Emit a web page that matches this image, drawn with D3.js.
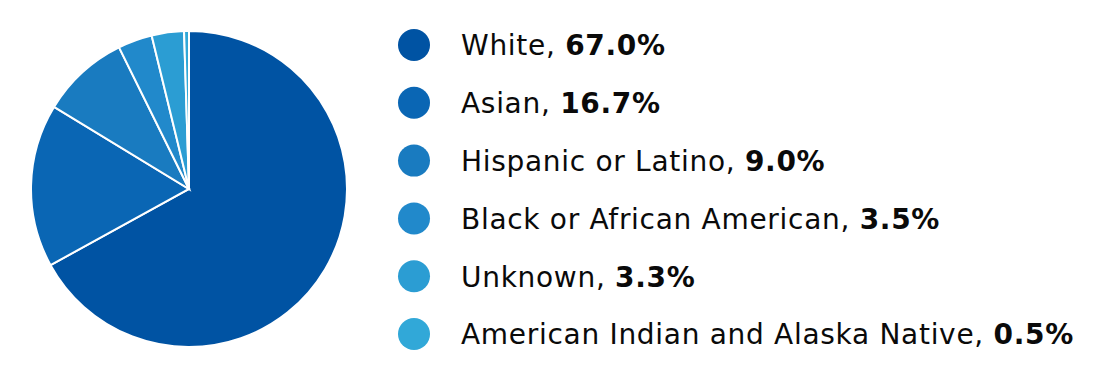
<!DOCTYPE html>
<html>
<head>
<meta charset="utf-8">
<script src="https://cdn.jsdelivr.net/npm/d3@7"></script>
<style>
  body { margin: 0; background: #fff; }
  svg text { font-family: "DejaVu Sans", sans-serif; }
</style>
</head>
<body>
<div id="chart"></div>
<script>
const width = 1105;
const height = 372;

const categories = ["White", "Asian", "Hispanic or Latino", "Black or African American", "Unknown", "American Indian and Alaska Native"];
const values = [67.0, 16.7, 9.0, 3.5, 3.3, 0.5];
const colors = ["#0053a3", "#0a66b4", "#197bc0", "#2189cb", "#2b9dd3", "#31a8d8"];

const data = categories.map((c, i) => ({ name: c, value: values[i], color: colors[i] }));

const svg = d3.select("#chart").append("svg")
  .attr("width", width)
  .attr("height", height);

// pie
const radius = 158;
const pie = d3.pie().sort(null).value(d => d.value);
const arc = d3.arc().innerRadius(0).outerRadius(radius);

svg.append("g")
  .attr("transform", "translate(189,189)")
  .selectAll("path")
  .data(pie(data))
  .join("path")
  .attr("d", arc)
  .attr("fill", d => d.data.color)
  .attr("stroke", "#fff")
  .attr("stroke-width", 2);

// legend
const y = d3.scalePoint().domain(categories).range([45, 334]);

const legend = svg.append("g")
  .selectAll("g")
  .data(data)
  .join("g")
  .attr("transform", d => `translate(0,${y(d.name)})`);

legend.append("circle")
  .attr("cx", 414)
  .attr("cy", 0)
  .attr("r", 16)
  .attr("fill", d => d.color);

const label = legend.append("text")
  .attr("x", 461)
  .attr("y", 0)
  .attr("dy", "0.37em")
  .style("font-size", "28px")
  .style("letter-spacing", "0.7px")
  .style("fill", "#0a0a0a");

label.append("tspan").text(d => d.name + ", ");
label.append("tspan")
  .style("font-weight", "bold")
  .text(d => d.value.toFixed(1) + "%");
</script>
</body>
</html>
